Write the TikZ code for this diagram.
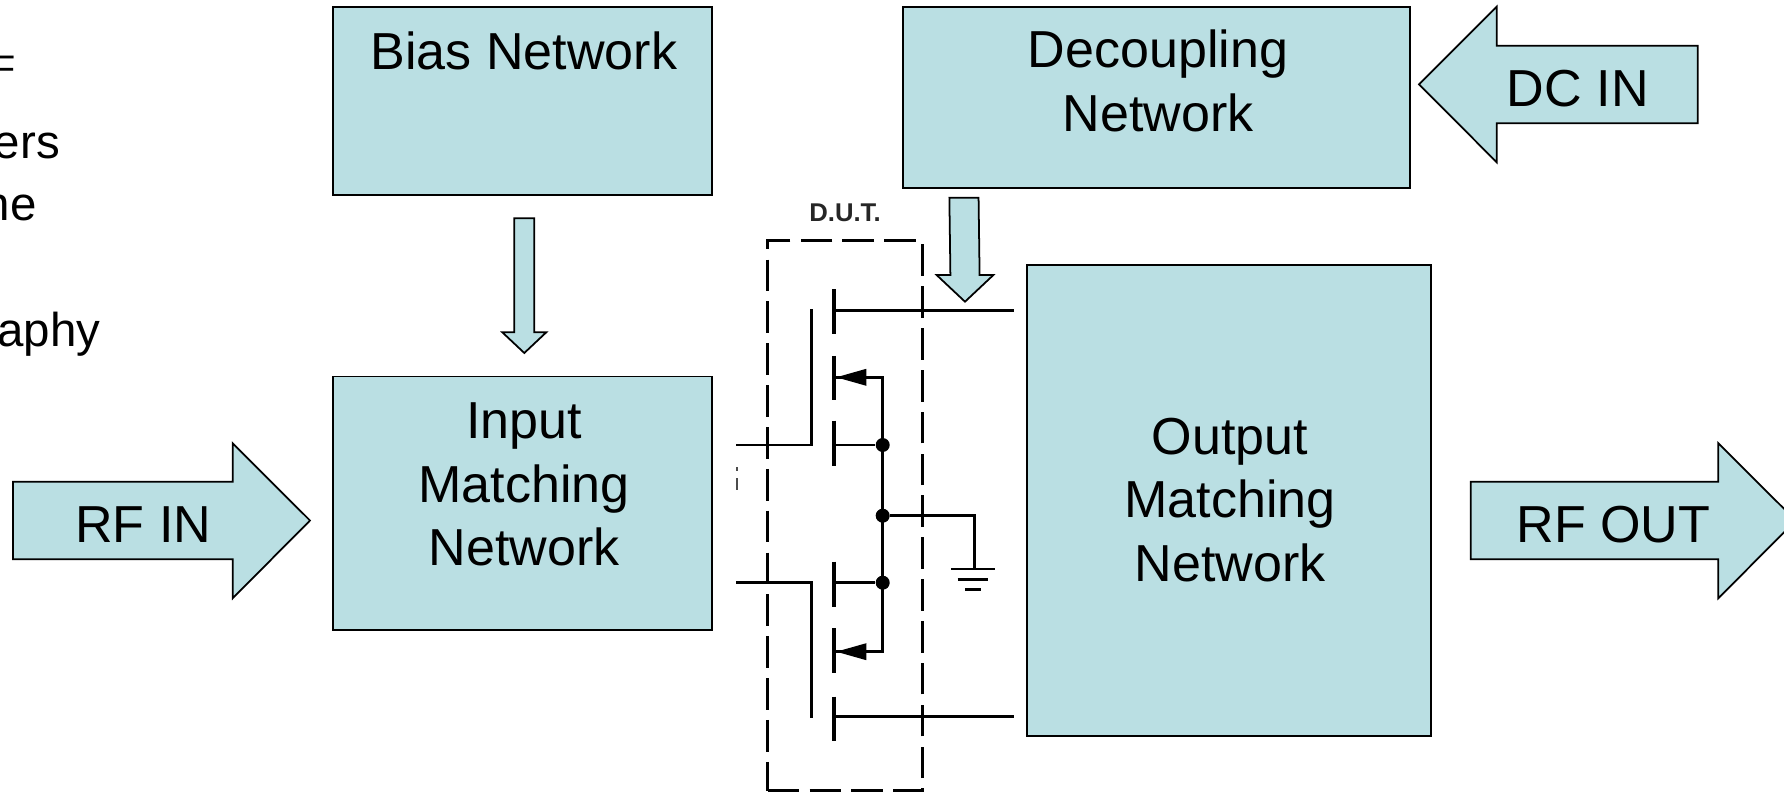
\documentclass[tikz,border=0pt]{standalone}
\usepackage{fontspec}
\setmainfont{Liberation Sans}
\usetikzlibrary{calc,positioning}

\definecolor{netblue}{RGB}{186,223,227}

\tikzset{
  netbox/.style={draw=black, line width=0.5pt, fill=netblue, inner sep=0pt},
  boxtext/.style={font=\fontsize{14.8}{18.1}\selectfont, align=center, inner sep=0pt},
  slidetext/.style={font=\fontsize{13.5}{16}\selectfont, inner sep=0pt, anchor=base east},
  fatarrow/.style={draw=black, line width=0.5pt, fill=netblue, line join=miter},
  wire/.style={line width=0.85pt},
  plate/.style={line width=1.15pt},
  dutframe/.style={draw=black, line width=0.85pt, dash pattern=on 9pt off 2.9pt},
  pin/.style={circle, fill=black, inner sep=0pt, minimum size=0.14cm},
}

\begin{document}
\begin{tikzpicture}[x=0.01cm, y=-0.01cm]
	\newcommand{\plateX}{834.3}
	\newcommand{\railX}{882.7}
	\newcommand{\gateX}{811.7}
	\newcommand{\leadX}{736}
	\newcommand{\wireEnd}{1014}
	\newcommand{\fatDown}[5]{%
		\draw[fatarrow] ($(#1)+(-#3,0)$) -- ($(#1)+(#3,0)$) -- ($(#2)+(#3,-#5)$)
			-- ($(#2)+(#4,-#5)$) -- (#2) -- ($(#2)+(-#4,-#5)$) -- ($(#2)+(-#3,-#5)$) -- cycle;}

	\useasboundingbox (0,0) rectangle (1784,794);
	\clip (0,0) rectangle (1784,794);

	% cut-off slide text
	\node[slidetext, font=\fontsize{10.5}{12}\selectfont] (frag_f) at (16,82) {F};
	\node[slidetext] (frag_ers) at (60.5,158.5) {ers};
	\node[slidetext] (frag_he) at (37.5,220.5) {he};
	\node[slidetext] (frag_aphy) at (101,347) {aphy};

	% network blocks
	\node[netbox, minimum width=3.784cm, minimum height=1.877cm] (bias_net) at (522.5,101.2) {};
	\node[netbox, minimum width=3.784cm, minimum height=2.533cm] (input_net) at (522.5,503.3) {};
	\node[netbox, minimum width=5.07cm, minimum height=1.81cm] (decoup_net) at (1156.5,97.5) {};
	\node[netbox, minimum width=4.04cm, minimum height=4.71cm] (output_net) at (1229,500.5) {};

	\node[boxtext] (bias_txt) at ($(bias_net.center)+(1.5,-50)$) {Bias Network};
	\node[boxtext] (input_txt) at ($(input_net.center)+(1.5,-18.8)$) {Input\\Matching\\Network};
	\node[boxtext] (decoup_txt) at ($(decoup_net.center)+(1.5,-16.5)$) {Decoupling\\Network};
	\node[boxtext] (output_txt) at ($(output_net.center)+(1,-0.6)$) {Output\\Matching\\Network};

	% block arrows
	\coordinate (rf_in_tip) at (310,520.5);
	\draw[fatarrow] (rf_in_tip) -- ++(-77.3,-77.2) -- ++(0,38.4) -- ++(-219.7,0) -- ++(0,77.6)
		-- ++(219.7,0) -- ++(0,39) -- cycle;
	\node[boxtext] (rf_in_txt) at (143.3,524.7) {RF IN};

	\coordinate (dc_in_tip) at (1419,84.3);
	\draw[fatarrow] (dc_in_tip) -- ++(77.7,-77.6) -- ++(0,39) -- ++(201,0) -- ++(0,77.6)
		-- ++(-201,0) -- ++(0,39) -- cycle;
	\node[boxtext] (dc_in_txt) at (1577.8,88.7) {DC IN};

	\coordinate (rf_out_tip) at (1795.8,520.5);
	\draw[fatarrow] (rf_out_tip) -- ++(-77.5,-77.2) -- ++(0,38.4) -- ++(-247.6,0) -- ++(0,77.6)
		-- ++(247.6,0) -- ++(0,39) -- cycle;
	\node[boxtext] (rf_out_txt) at (1613.3,524.7) {RF OUT};

	\coordinate (bias_arrow_top) at ($(bias_net.south)+(1.8,22.3)$);
	\coordinate (bias_arrow_tip) at ($(input_net.north)+(1.8,-22.7)$);
	\fatDown{bias_arrow_top}{bias_arrow_tip}{10}{22}{20.7}

	\coordinate (dc_arrow_top) at ($(decoup_net.south west)+(62,8.7)$);
	\coordinate (dc_arrow_tip) at (965,301.7);
	\fatDown{dc_arrow_top}{dc_arrow_tip}{14.6}{28.4}{26.7}

	% device under test
	\node[dutframe, inner sep=0pt, minimum width=1.546cm, minimum height=5.5cm] (dut) at (845,515.7) {};
	\node[font=\fontsize{7.3}{8}\selectfont\bfseries, text=black!85, inner sep=0pt] (dut_label) [above=0.167cm of dut] {D.U.T.};

	% upper transistor
	\coordinate (gate_up_in) at (\leadX,445);
	\draw[wire] (gate_up_in) -| (\gateX,309.3);
	\draw[plate] (\plateX,289.3) -- (\plateX,334)
		(\plateX,356) -- (\plateX,400)
		(\plateX,420.7) -- (\plateX,466);
	\coordinate (drain_up) at (\wireEnd,310.7);
	\draw[wire] (\plateX,310.7) -- (drain_up);
	\node[pin] (src_up) at (\railX,445) {};
	\node[pin] (gnd_tap) at (\railX,515.7) {};
	\node[pin] (drn_low) at (\railX,582.7) {};
	\draw[wire] (\plateX,445) -- (src_up);
	\draw[wire] (\plateX,377.3) -| (\railX,651.7) -- (\plateX,651.7);
	\foreach \yb in {377.3,651.7}
		\fill ($(\plateX,\yb)+(2,0)$) -- ++(30,-8.5) -- ++(0,17) -- cycle;

	% lower transistor
	\coordinate (gate_low_in) at (\leadX,582.7);
	\draw[wire] (gate_low_in) -| (\gateX,718.3);
	\draw[plate] (\plateX,561.7) -- (\plateX,607.3)
		(\plateX,628.3) -- (\plateX,672.7)
		(\plateX,696.7) -- (\plateX,740.7);
	\draw[wire] (\plateX,582.7) -- (drn_low);
	\coordinate (src_low) at (\wireEnd,716.7);
	\draw[wire] (\plateX,716.7) -- (src_low);
	\draw[line width=0.6pt, black!70] (737,467) -- (737,471) (737,478) -- (737,490);

	% ground
	\coordinate (gnd) at (974,569);
	\draw[wire] (gnd_tap) -| (gnd);
	\draw[wire] ($(gnd)+(-23,0)$) -- ($(gnd)+(21,0)$)
		($(gnd)+(-16.4,10.3)$) -- ($(gnd)+(14.2,10.3)$)
		($(gnd)+(-9,20.3)$) -- ($(gnd)+(6.6,20.3)$);
\end{tikzpicture}
\end{document}
